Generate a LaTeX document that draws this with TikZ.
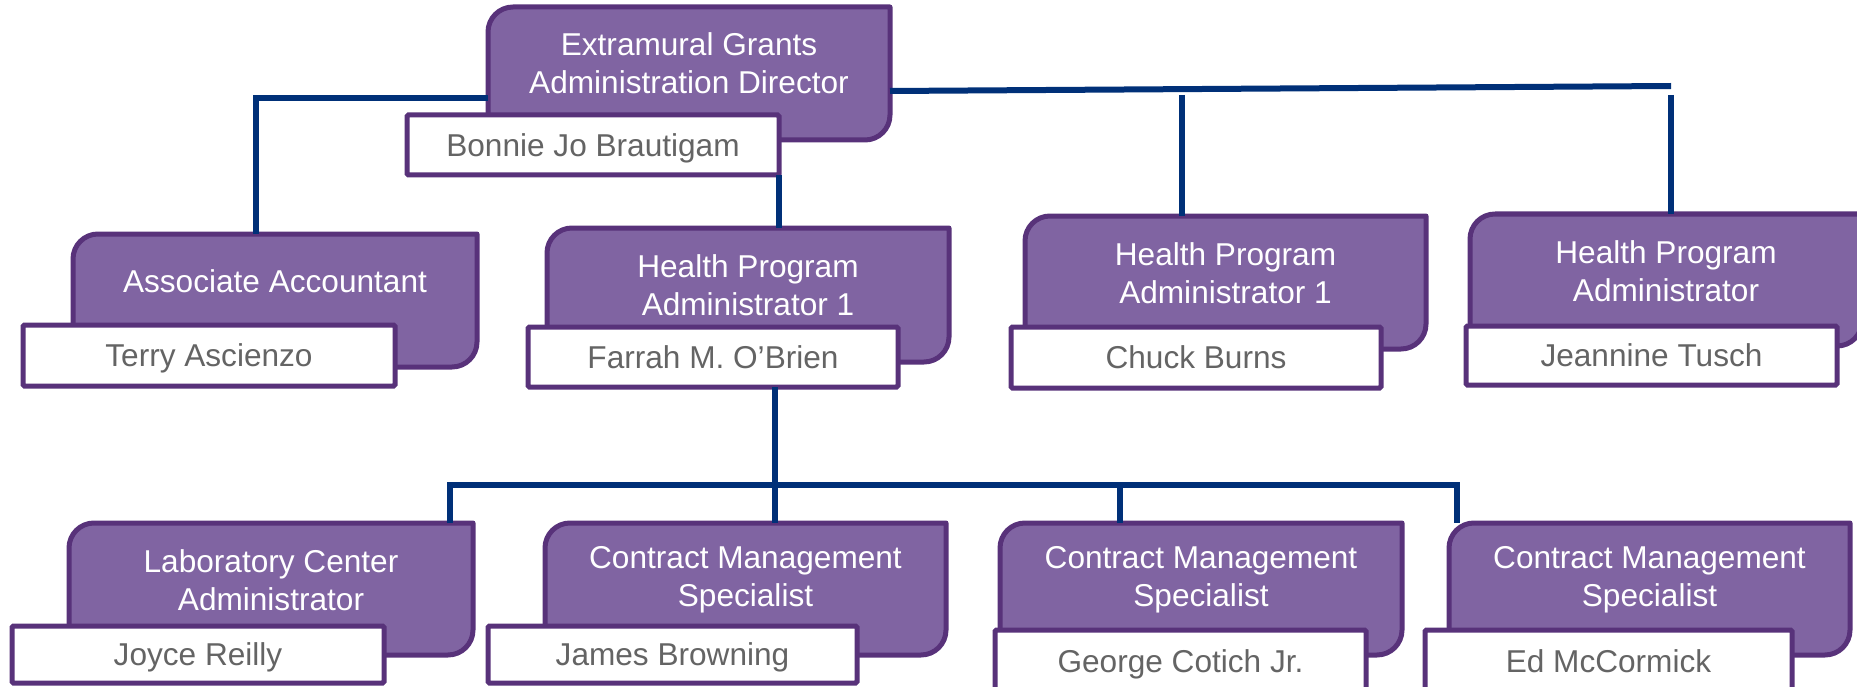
\documentclass[tikz,border=0pt]{standalone}
\usepackage{fontspec}
\setmainfont{Liberation Sans}
\usetikzlibrary{calc}
\definecolor{pfill}{RGB}{128,100,162}
\definecolor{pline}{RGB}{88,50,122}
\definecolor{conncol}{RGB}{0,48,120}
\definecolor{ntext}{RGB}{100,100,100}
\tikzset{
 boxnode/.style={inner sep=0pt, outer sep=0pt, draw=none},
 purp/.style={fill=pfill, draw=pline, line width=5pt, line join=round},
 nbox/.style={fill=white, draw=pline, line width=5pt, rounded corners=1.5pt, inner sep=0pt, outer sep=0pt, text=ntext, text height=22.6pt, text depth=0pt, font=\fontsize{31.6}{38}\selectfont},
 ttl/.style={text=white, align=center, inner sep=0pt, font=\fontsize{31.6}{38}\selectfont},
 conn/.style={draw=conncol, line width=6pt},
}
\newcommand\pbox[7]{%
 \node[boxnode, minimum width={(#4-#2)*1pt}, minimum height={(#5-#3)*1pt}] (#1) at ({(#2+#4)/2},{(#3+#5)/2}) {};
 \draw[purp] (#1.south west) -- ($(#1.north west)+(0,25)$) arc[start angle=180,end angle=270,radius=25] -- (#1.north east) -- ($(#1.south east)+(0,-25)$) arc[start angle=0,end angle=90,radius=25] -- cycle;
 \node[ttl] (#1-t) at ({(#2+#4)/2},#6) {#7};
}
\newcommand\nmbox[6]{%
 \node[nbox, minimum width={(#4-#2)*1pt}, minimum height={(#5-#3)*1pt}] (#1) at ({(#2+#4)/2},{(#3+#5)/2}) {#6};
}
\begin{document}
\begin{tikzpicture}[x=1pt,y=-1pt]
\useasboundingbox (0,0) rectangle (1857,687);
% top
\pbox{top}{488}{7}{890}{140}{63}{Extramural Grants\\Administration Director}
\nmbox{topn}{407}{115}{779}{175}{Bonnie Jo Brautigam}
% second row
\pbox{acct}{73}{234}{477}{367}{281}{Associate Accountant}
\nmbox{acctn}{23}{325}{395}{386}{Terry Ascienzo}
\pbox{hpa}{547}{228}{949}{362}{285}{Health Program\\Administrator 1}
\nmbox{hpan}{528}{327}{898}{387}{Farrah M. O’Brien}
\pbox{hpb}{1025}{216}{1426}{349}{273}{Health Program\\Administrator 1}
\nmbox{hpbn}{1011}{327}{1381}{388}{Chuck Burns}
\pbox{hpc}{1470}{214}{1862}{346}{271}{Health Program\\Administrator}
\nmbox{hpcn}{1466}{326}{1837}{385}{Jeannine Tusch}
% third row
\pbox{lab}{69}{523}{473}{655}{580}{Laboratory Center\\Administrator}
\nmbox{labn}{12}{626}{384}{683}{Joyce Reilly}
\pbox{cma}{545}{523}{946}{655}{580}{Contract Management\\Specialist}
\nmbox{cman}{488}{626}{857}{683}{James Browning}
\pbox{cmb}{1000}{523}{1402}{655}{580}{Contract Management\\Specialist}
\nmbox{cmbn}{995}{630}{1366}{692}{George Cotich Jr.}
\pbox{cmc}{1449}{523}{1850}{655}{580}{Contract Management\\Specialist}
\nmbox{cmcn}{1425}{630}{1792}{692}{Ed McCormick}
% connectors
\coordinate (tl) at (256,98);
\draw[conn] (top.west |- tl) -- (tl) -- (tl |- acct.north);
\coordinate (tv) at (779,200);
\draw[conn] (tv |- topn.south) -- (tv |- hpa.north);
\coordinate (tr) at (1671,86);
\draw[conn] ([yshift=-17.5pt]top.east) -- (tr);
\coordinate (j1) at (1182,95);
\draw[conn] (j1) -- (j1 |- hpb.north);
\coordinate (j2) at (1671,95);
\draw[conn] (j2) -- (j2 |- hpc.north);
\coordinate (b0) at (775,485);
\coordinate (bl) at (450,485);
\coordinate (br) at (1457,485);
\coordinate (b2) at (1120,485);
\draw[conn] (b0 |- hpan.south) -- (b0) -- (b0 |- cma.north);
\draw[conn] (bl |- lab.north) -- (bl) -- (br) -- (br |- cmc.north);
\draw[conn] (b2) -- (b2 |- cmb.north);
\end{tikzpicture}
\end{document}
